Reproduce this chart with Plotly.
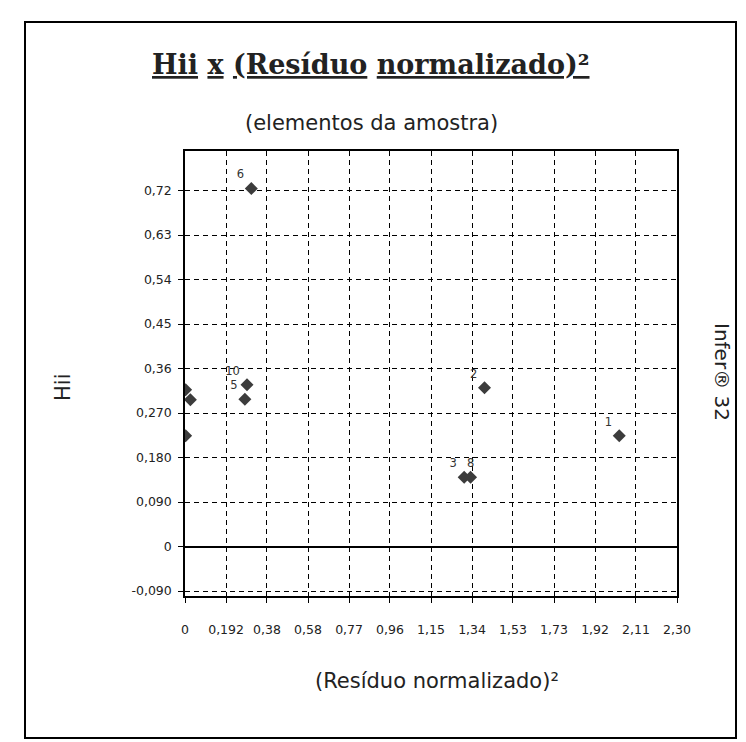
import plotly.graph_objects as go

# Hii x (Resíduo normalizado)² - elementos da amostra
element_labels = ["6", "10", "5", "2", "3", "8", "1", "", "", ""]
residuo_sq = [0.31, 0.29, 0.28, 1.40, 1.305, 1.335, 2.03, 0.003, 0.025, 0.003]
hii = [0.724, 0.327, 0.298, 0.321, 0.140, 0.140, 0.224, 0.317, 0.297, 0.224]
label_pos = ["top left"] * 5 + ["top center"] + ["top left"] * 4

x_tickvals = [0, 0.192, 0.383, 0.575, 0.767, 0.958, 1.15, 1.342, 1.533, 1.725, 1.917, 2.108, 2.30]
x_ticktext = ["0", "0,192", "0,38", "0,58", "0,77", "0,96", "1,15", "1,34", "1,53", "1,73", "1,92", "2,11", "2,30"]
y_tickvals = [-0.09, 0, 0.09, 0.18, 0.27, 0.36, 0.45, 0.54, 0.63, 0.72]
y_ticktext = ["-0,090", "0", "0,090", "0,180", "0,270", "0,36", "0,45", "0,54", "0,63", "0,72"]

# page body has an 8px margin, so the figure is shifted by OFF
OFF = 8
W, H = 746 - OFF, 742 - OFF
L, R, T, B = 185 - OFF, 69, 151 - OFF, 146


def px(x, y):
    # screen pixel position -> paper coordinates
    x, y = x - OFF, y - OFF
    return (x - L) / (W - L - R), (H - B - y) / (H - T - B)


fig = go.Figure(
    go.Scatter(
        x=residuo_sq,
        y=hii,
        mode="markers+text",
        text=element_labels,
        textposition=label_pos,
        textfont=dict(family="DejaVu Sans", size=11.5, color="#333333"),
        marker=dict(symbol="diamond", size=10, color="#3c3c3c"),
        showlegend=False,
    )
)

axis_common = dict(
    showline=True, linecolor="black", linewidth=1.5, mirror=True,
    showgrid=True, gridcolor="black", gridwidth=1.2, griddash="5px,4px",
    ticks="outside", ticklen=5, tickcolor="black",
    tickfont=dict(family="DejaVu Sans", size=12.5, color="#222222"),
)

fig.update_xaxes(
    range=[0, 2.30], tickvals=x_tickvals, ticktext=x_ticktext,
    zeroline=False, ticklabelstandoff=16, **axis_common,
)
fig.update_yaxes(
    range=[-0.1, 0.8], tickvals=y_tickvals, ticktext=y_ticktext,
    zeroline=True, zerolinecolor="black", zerolinewidth=1.5,
    ticklabelstandoff=4, **axis_common,
)

tx, ty = px(371, 64)
sx, sy = px(371, 123)
xx, xy = px(437, 681)
yx, yy = px(63, 388)
ix, iy = px(722, 372)
fx0, fy0 = px(25, 738)
fx1, fy1 = px(736, 22)

ann = dict(xref="paper", yref="paper", showarrow=False, xanchor="center", yanchor="middle")

fig.update_layout(
    width=W, height=H,
    margin=dict(l=L, r=R, t=T, b=B, autoexpand=False),
    paper_bgcolor="white", plot_bgcolor="white",
    annotations=[
        dict(x=tx, y=ty, **ann,
             text="<u>Hii</u> <u>x</u> <u>(Resíduo</u> <u>normalizado)²</u>",
             font=dict(family="DejaVu Serif", size=27, color="#222222", weight="bold")),
        dict(x=sx, y=sy, **ann,
             text="(elementos da amostra)",
             font=dict(family="DejaVu Sans", size=21, color="#222222")),
        dict(x=xx, y=xy, **ann,
             text="(Resíduo normalizado)²",
             font=dict(family="DejaVu Sans", size=21, color="#222222")),
        dict(x=yx, y=yy, **ann,
             text="Hii", textangle=-90,
             font=dict(family="DejaVu Sans", size=21, color="#222222")),
        dict(x=ix, y=iy, **ann,
             text="Infer® 32", textangle=90,
             font=dict(family="DejaVu Sans", size=20, color="#222222")),
    ],
    shapes=[
        dict(type="rect", xref="paper", yref="paper",
             x0=fx0, y0=fy0, x1=fx1, y1=fy1,
             line=dict(color="black", width=2), layer="below"),
    ],
)

fig.write_html("out.html")
